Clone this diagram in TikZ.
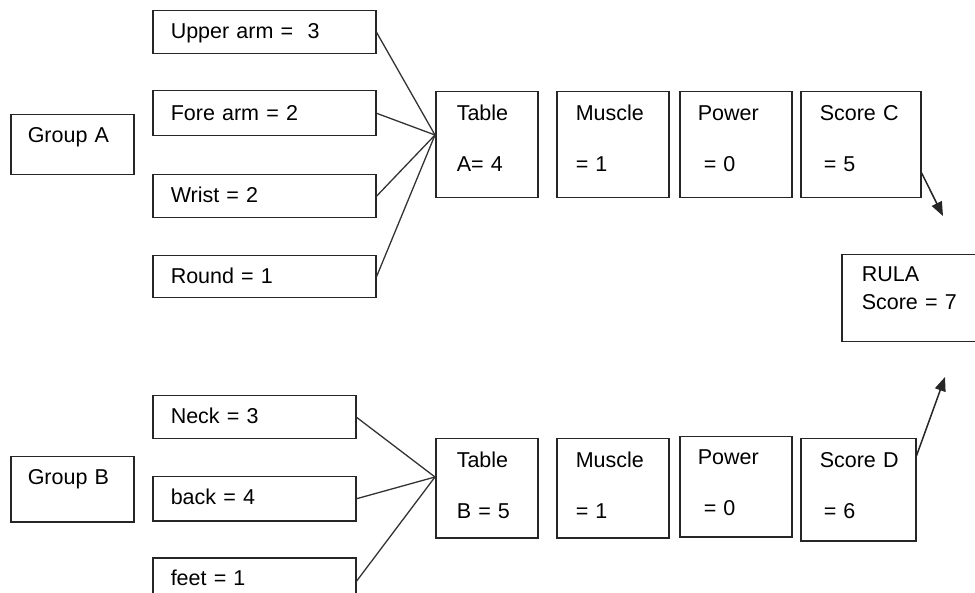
\documentclass[tikz,border=0pt]{standalone}
\usepackage{fontspec}
\setmainfont{Liberation Sans}
\usetikzlibrary{arrows.meta,calc}
\tikzset{
  cell/.style 2 args={
    draw=black!85, line width=1.5pt, anchor=north west, align=left,
    inner xsep=19pt, inner ysep=0pt, text width=#1, text height=28pt, text depth=#2,
    font=\fontsize{21.5}{26}\selectfont
  },
  link/.style={line width=1.3pt, black!80},
  feed/.style={line width=1.5pt, black!85, -{Triangle[length=14pt,width=11pt]}}
}
\begin{document}
\begin{tikzpicture}[x=1pt, y=-1pt]
  \useasboundingbox (0,0) rectangle (975,593);
  \clip (0,0) rectangle (975,593);
  % group A
  \node[cell={89pt}{32pt}, inner xsep=17pt] (grpA) at (10,114) {Group A};
  \node[cell={187pt}{15pt}, inner xsep=18pt] (upper) at (152,10) {Upper arm = ~3};
  \node[cell={187pt}{15pt}, inner xsep=18pt, text height=30pt] (fore) at (152,90) {Fore arm = 2};
  \node[cell={187pt}{15pt}, inner xsep=18pt] (wrist) at (152,174) {Wrist = 2};
  \node[cell={187pt}{14pt}, inner xsep=18pt] (round) at (152,255) {Round = 1};
  \node[cell={60pt}{77pt}, inner xsep=21pt, text height=29pt] (tabA) at (435,91) {Table\\[25pt]A= 4};
  \node[cell={74pt}{77pt}, text height=29pt] (musA) at (556,91) {Muscle\\[25pt]= 1};
  \node[cell={76pt}{77pt}, inner xsep=18pt, text height=29pt] (powA) at (679,91) {Power\\[25pt]\hspace*{6pt}= 0};
  \node[cell={82pt}{77pt}, text height=29pt] (scoreC) at (800,91) {Score~C\\[25pt]\hspace*{4pt}= 5};
  % group B
  \node[cell={89pt}{37pt}, inner xsep=17pt] (grpB) at (10,456) {Group B};
  \node[cell={167pt}{15pt}, inner xsep=18pt] (neck) at (152,395) {Neck = 3};
  \node[cell={167pt}{16pt}, inner xsep=18pt] (back) at (152,476) {back = 4};
  \node[cell={167pt}{19pt}, inner xsep=18pt] (feet) at (152,557) {feet = 1};
  \node[cell={60pt}{70pt}, inner xsep=21pt, text height=29pt] (tabB) at (435,438) {Table\\[25pt]B = 5};
  \node[cell={74pt}{70pt}, text height=29pt] (musB) at (556,438) {Muscle\\[25pt]= 1};
  \node[cell={76pt}{72pt}, inner xsep=18pt] (powB) at (679,436) {Power\\[25pt]\hspace*{6pt}= 0};
  \node[cell={79pt}{73pt}, inner xsep=18pt, text height=29pt] (scoreD) at (800,438) {\hspace*{1pt}Score~D\\[25pt]\hspace*{5pt}= 6};
  % result
  \node[cell={120pt}{60pt}, inner xsep=20pt, text height=27pt] (rula) at (841,254) {RULA\\[2pt]Score = 7};
  % connectors
  \coordinate (hubA) at (435,135);
  \coordinate (hubB) at (435,477);
  \foreach \n in {upper,fore,wrist,round}
    \draw[link] (\n.east) -- (hubA);
  \foreach \n in {neck,back,feet}
    \draw[link] (\n.east) -- (hubB);
  \coordinate (tipC) at (943,216);
  \coordinate (tipD) at (945,377);
  \draw[feed] ([yshift=-28pt]scoreC.east) -- (tipC);
  \draw[feed] ([yshift=34pt]scoreD.east) -- (tipD);
\end{tikzpicture}
\end{document}
